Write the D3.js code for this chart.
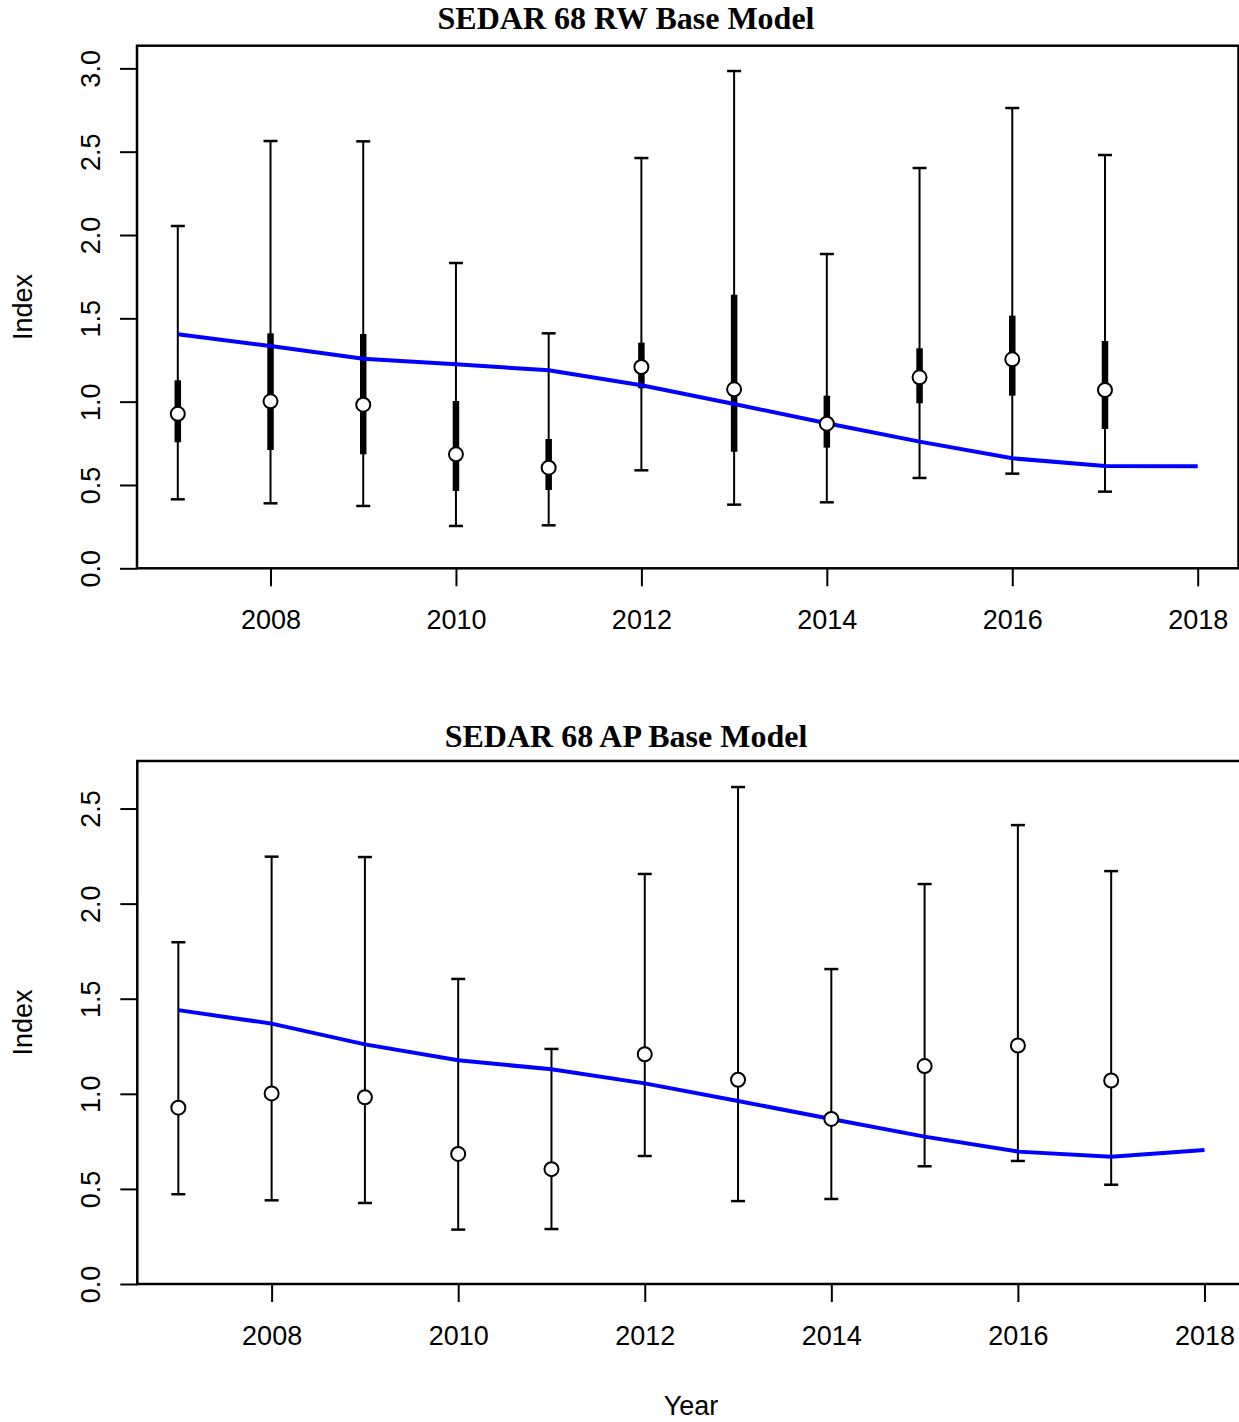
<!DOCTYPE html>
<html>
<head>
<meta charset="utf-8">
<script src="https://cdnjs.cloudflare.com/ajax/libs/d3/7.8.5/d3.min.js"></script>
<style>
  html, body { margin: 0; padding: 0; background: #fff; }
  svg { display: block; }
</style>
</head>
<body>
<svg id="chart" width="1239" height="1422"></svg>
<script>
// ---- data ----
const years = [2007, 2008, 2009, 2010, 2011, 2012, 2013, 2014, 2015, 2016, 2017];
const predYears = [2007, 2008, 2009, 2010, 2011, 2012, 2013, 2014, 2015, 2016, 2017, 2018];
const observed = [0.927, 1.002, 0.982, 0.684, 0.604, 1.208, 1.074, 0.868, 1.146, 1.254, 1.07];

// RW panel
const rwLo95 = [0.414, 0.39, 0.374, 0.254, 0.258, 0.588, 0.382, 0.396, 0.542, 0.568, 0.46];
const rwHi95 = [2.054, 2.564, 2.562, 1.832, 1.41, 2.462, 2.984, 1.886, 2.402, 2.762, 2.48];
const rwLoInner = [0.756, 0.71, 0.684, 0.464, 0.47, 1.08, 0.70, 0.724, 0.99, 1.036, 0.836];
const rwHiInner = [1.128, 1.41, 1.406, 1.004, 0.776, 1.354, 1.642, 1.036, 1.32, 1.516, 1.364];
const rwPred = [1.404, 1.334, 1.258, 1.224, 1.188, 1.098, 0.986, 0.87, 0.76, 0.66, 0.614, 0.612];
const rwYTicks = [0.0, 0.5, 1.0, 1.5, 2.0, 2.5, 3.0];

// AP panel
const apLo95 = [0.472, 0.44, 0.426, 0.286, 0.289, 0.673, 0.436, 0.447, 0.619, 0.647, 0.522];
const apHi95 = [1.797, 2.247, 2.245, 1.604, 1.236, 2.156, 2.613, 1.656, 2.103, 2.413, 2.171];
const apPred = [1.44, 1.369, 1.26, 1.176, 1.129, 1.055, 0.962, 0.868, 0.775, 0.696, 0.669, 0.705];
const apYTicks = [0.0, 0.5, 1.0, 1.5, 2.0, 2.5];

const xTicks = [2008, 2010, 2012, 2014, 2016, 2018];

const svg = d3.select("#chart");
const sansFont = "'Liberation Sans', Arial, sans-serif";
const serifFont = "'Liberation Serif', 'Times New Roman', serif";

function panel(cfg) {
  const x = d3.scaleLinear().domain([2006.56, 2018.44]).range([cfg.left, cfg.right]);
  const y = d3.scaleLinear().domain([0, cfg.yMax]).range([cfg.bottom, cfg.top]);
  const g = svg.append("g");

  // title
  g.append("text")
    .attr("x", 626).attr("y", cfg.titleY)
    .attr("text-anchor", "middle")
    .style("font-family", serifFont).style("font-weight", "bold").style("font-size", "32px")
    .text(cfg.title);

  // y axis
  const yAxis = d3.axisLeft(y).tickValues(cfg.yTicks).tickFormat(d3.format(".1f")).tickSize(17).tickSizeOuter(0);
  const ya = g.append("g").attr("transform", `translate(${cfg.left},0)`).call(yAxis);
  ya.select(".domain").remove();
  ya.selectAll(".tick line").attr("stroke", "#000").attr("stroke-width", 2);
  ya.selectAll(".tick text")
    .attr("x", null).attr("dy", null)
    .attr("transform", "translate(-37,0) rotate(-90)")
    .attr("text-anchor", "middle")
    .style("font-family", sansFont).style("font-size", "27px").attr("fill", "#000");

  // x axis
  const xAxis = d3.axisBottom(x).tickValues(xTicks).tickFormat(d3.format("d")).tickSize(18).tickSizeOuter(0);
  const xa = g.append("g").attr("transform", `translate(0,${cfg.bottom})`).call(xAxis);
  xa.select(".domain").remove();
  xa.selectAll(".tick line").attr("stroke", "#000").attr("stroke-width", 2);
  xa.selectAll(".tick text")
    .attr("y", 61).attr("dy", null)
    .style("font-family", sansFont).style("font-size", "27px").attr("fill", "#000");

  // y label
  g.append("text")
    .attr("transform", `translate(32,${(cfg.top + cfg.bottom) / 2}) rotate(-90)`)
    .attr("text-anchor", "middle")
    .style("font-family", sansFont).style("font-size", "27px")
    .text("Index");

  // frame
  g.append("rect")
    .attr("x", cfg.left).attr("y", cfg.top)
    .attr("width", cfg.frameRight - cfg.left).attr("height", cfg.bottom - cfg.top)
    .attr("fill", "none").attr("stroke", "#000").attr("stroke-width", 2.5);

  // thin 95% bars
  const bars = g.append("g");
  years.forEach((yr, i) => {
    const cx = x(yr);
    bars.append("line").attr("x1", cx).attr("x2", cx)
      .attr("y1", y(cfg.lo[i])).attr("y2", y(cfg.hi[i]))
      .attr("stroke", "#000").attr("stroke-width", 2);
    [cfg.lo[i], cfg.hi[i]].forEach(v => {
      bars.append("line").attr("x1", cx - 7).attr("x2", cx + 7)
        .attr("y1", y(v)).attr("y2", y(v))
        .attr("stroke", "#000").attr("stroke-width", 2.5);
    });
    if (cfg.loIn) {
      bars.append("line").attr("x1", cx).attr("x2", cx)
        .attr("y1", y(cfg.loIn[i])).attr("y2", y(cfg.hiIn[i]))
        .attr("stroke", "#000").attr("stroke-width", 6.5);
    }
  });

  // predicted line
  const line = d3.line().x((d, i) => x(predYears[i])).y(d => y(d));
  g.append("path").datum(cfg.pred)
    .attr("d", line)
    .attr("fill", "none").attr("stroke", "#0000ff").attr("stroke-width", 4);

  // observed points
  g.append("g").selectAll("circle").data(observed).join("circle")
    .attr("cx", (d, i) => x(years[i])).attr("cy", d => y(d))
    .attr("r", 7)
    .attr("fill", "#fff").attr("stroke", "#000").attr("stroke-width", 2);
}

panel({
  title: "SEDAR 68 RW Base Model", titleY: 29,
  left: 137, right: 1238.5, frameRight: 1238.5, top: 45.7, bottom: 568.3, yMax: 3.136,
  yTicks: rwYTicks, lo: rwLo95, hi: rwHi95, loIn: rwLoInner, hiIn: rwHiInner, pred: rwPred
});

panel({
  title: "SEDAR 68 AP Base Model", titleY: 747,
  left: 137.3, right: 1245.5, frameRight: 1245.5, top: 761, bottom: 1284, yMax: 2.75,
  yTicks: apYTicks, lo: apLo95, hi: apHi95, pred: apPred
});

svg.append("text")
  .attr("x", 691).attr("y", 1415)
  .attr("text-anchor", "middle")
  .style("font-family", sansFont).style("font-size", "27px")
  .text("Year");
</script>
</body>
</html>
